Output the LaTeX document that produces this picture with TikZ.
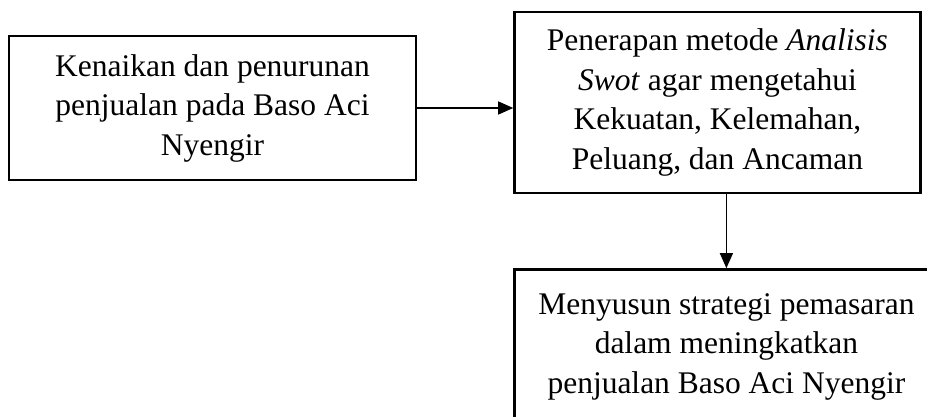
\documentclass[tikz,border=0pt]{standalone}
\usepackage{fontspec}
\setmainfont{Liberation Serif}
\usepackage{tikz}
\usetikzlibrary{arrows.meta,positioning,calc}

\begin{document}
\begin{tikzpicture}[x=1pt,y=-1pt]
\tikzset{kotak/.style={draw,line width=2.4pt,align=center,inner sep=0pt,
font=\fontsize{31.5}{39.5}\selectfont}}
\tikzset{panah/.style={draw,line width=1.3pt,-{Triangle[length=15pt,width=13pt]}}}
\useasboundingbox (0,0) rectangle (927,417);
\node[kotak,minimum width=407pt,minimum height=144pt] (kenaikan) at (212.5,108)
{Kenaikan dan penurunan\\penjualan pada Baso Aci\\Nyengir};
\node[kotak,minimum width=406pt,minimum height=181pt,right=96pt of kenaikan,yshift=5.5pt] (penerapan)
{Penerapan metode \textit{Analisis}\\\textit{Swot} agar mengetahui\\Kekuatan, Kelemahan,\\Peluang, dan Ancaman};
\node[kotak,minimum width=424pt,minimum height=155pt,below=74pt of penerapan.south west,anchor=north west] (menyusun)
{Menyusun strategi pemasaran\\dalam meningkatkan\\penjualan Baso Aci Nyengir};
% panah
\draw[panah] (kenaikan.east) -- (kenaikan.east -| penerapan.west);
\draw[panah] (penerapan.south -| menyusun.north) -- (menyusun.north);
\end{tikzpicture}
\end{document}
